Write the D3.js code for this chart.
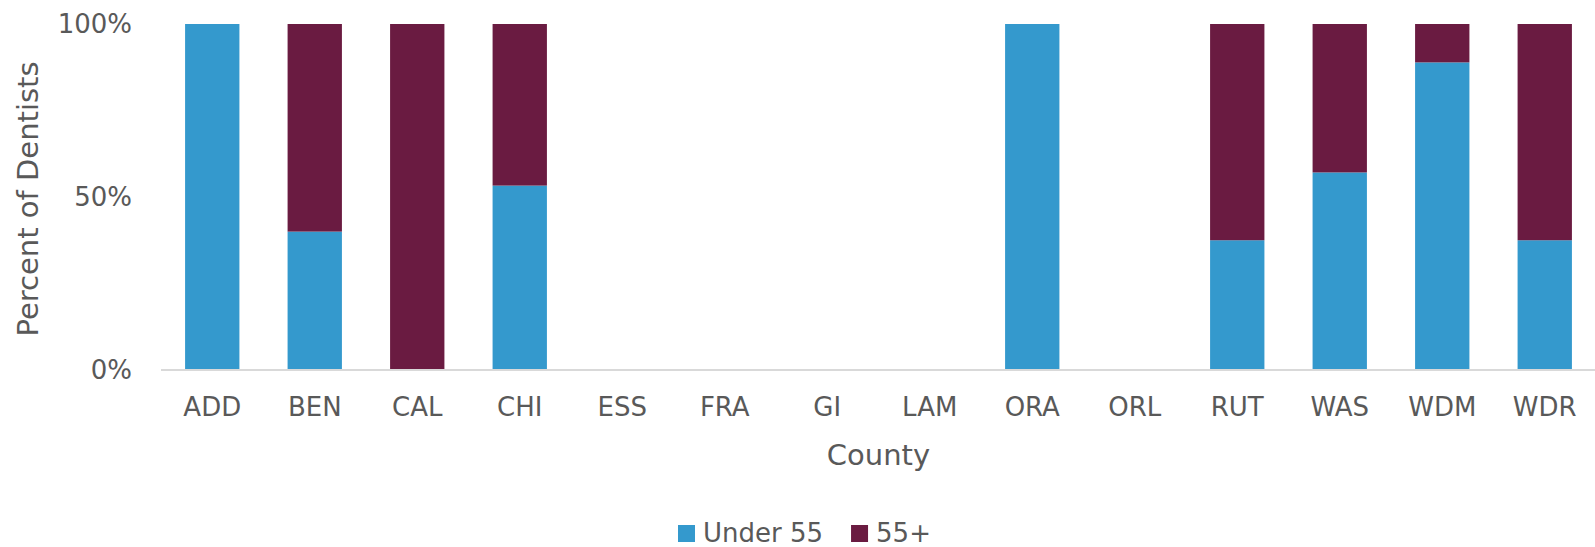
<!DOCTYPE html>
<html>
<head>
<meta charset="utf-8">
<script src="https://cdn.jsdelivr.net/npm/d3@7"></script>
<style>
  body { margin: 0; background: #fff; }
  text { font-family: "DejaVu Sans", sans-serif; fill: #595959; }
</style>
</head>
<body>
<div id="chart"></div>
<script>
// Chart size
var w = 1595;
var h = 547;

// Data
var counties = ["ADD", "BEN", "CAL", "CHI", "ESS", "FRA", "GI", "LAM", "ORA", "ORL", "RUT", "WAS", "WDM", "WDR"];
var under55 = [1, 0.4, 0, 0.533, 0, 0, 0, 0, 1, 0, 0.375, 0.571, 0.889, 0.375];
var over55 = [0, 0.6, 1, 0.467, 0, 0, 0, 0, 0, 0, 0.625, 0.429, 0.111, 0.625];
var seriesNames = ["Under 55", "55+"];
var yTicks = [0, 0.5, 1];

var colors = ["#3499cd", "#6a1b41"];

var svg = d3.select("#chart")
  .append("svg")
  .attr("width", w)
  .attr("height", h);

// Plot area (don't name these "top" - clashes with window.top)
var plotLeft = 161, plotRight = 1596, plotTop = 24, plotBottom = 370;

var xScale = d3.scaleBand()
  .domain(counties)
  .range([plotLeft, plotRight])
  .paddingInner(0.47)
  .paddingOuter(0.235);

var yScale = d3.scaleLinear()
  .domain([0, 1])
  .range([plotBottom, plotTop]);

// Stack the two series
var table = counties.map(function(c, i) {
  return { county: c, "Under 55": under55[i], "55+": over55[i] };
});
var stacked = d3.stack().keys(seriesNames)(table);

svg.append("g")
  .selectAll("g")
  .data(stacked)
  .join("g")
  .attr("fill", (d, i) => colors[i])
  .selectAll("rect")
  .data(d => d)
  .join("rect")
  .attr("x", d => xScale(d.data.county))
  .attr("y", d => yScale(d[1]))
  .attr("width", xScale.bandwidth())
  .attr("height", d => yScale(d[0]) - yScale(d[1]));

// X axis
var xAxis = d3.axisBottom(xScale).tickSize(0).tickPadding(28);
var gx = svg.append("g")
  .attr("transform", "translate(0," + plotBottom + ")")
  .call(xAxis);
gx.select(".domain").attr("stroke", "#d9d9d9").attr("stroke-width", 2)
  .attr("d", "M" + plotLeft + ",0H" + plotRight);
gx.selectAll("text").style("font-size", "26px").attr("fill", "#595959");

// Y axis (labels only)
var yAxis = d3.axisLeft(yScale)
  .tickValues(yTicks)
  .tickFormat(d3.format(".0%"))
  .tickSize(0)
  .tickPadding(29);
var gy = svg.append("g")
  .attr("transform", "translate(" + plotLeft + ",0)")
  .call(yAxis);
gy.select(".domain").remove();
gy.selectAll("text").style("font-size", "26px").attr("fill", "#595959");

// Axis titles
svg.append("text")
  .attr("x", (plotLeft + plotRight) / 2)
  .attr("y", 465)
  .attr("text-anchor", "middle")
  .style("font-size", "29px")
  .text("County");

svg.append("text")
  .attr("transform", "translate(38," + ((plotTop + plotBottom) / 2 + 2) + ") rotate(-90)")
  .attr("text-anchor", "middle")
  .style("font-size", "29px")
  .text("Percent of Dentists");

// Legend
var legend = svg.append("g");
var lx = 678;
seriesNames.forEach(function(name, i) {
  legend.append("rect")
    .attr("x", lx)
    .attr("y", 525)
    .attr("width", 17)
    .attr("height", 17)
    .attr("fill", colors[i]);
  var t = legend.append("text")
    .attr("x", lx + 25)
    .attr("y", 542)
    .style("font-size", "26px")
    .text(name);
  lx += 25 + t.node().getComputedTextLength() + 28;
});
</script>
</body>
</html>
